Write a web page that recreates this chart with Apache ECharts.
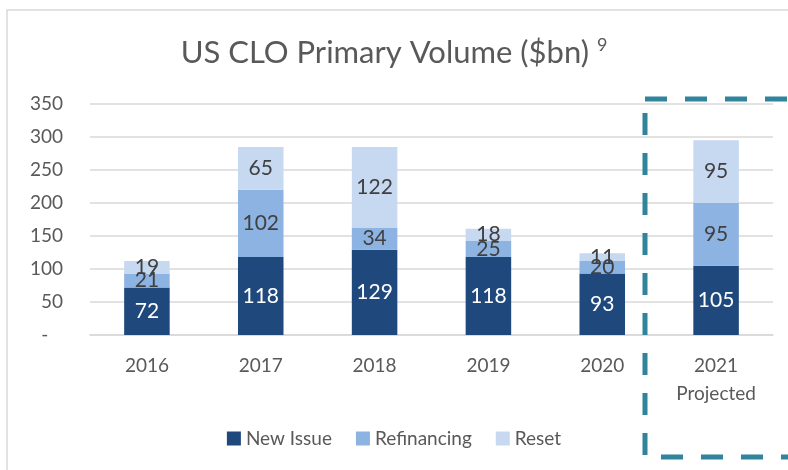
<!DOCTYPE html>
<html>
<head>
<meta charset="utf-8">
<script src="https://cdn.jsdelivr.net/npm/echarts@6/dist/echarts.min.js"></script>
<style>
  html, body { margin: 0; padding: 0; background: #fff; }
  #chart { width: 788px; height: 470px; }
</style>
</head>
<body>
<div id="chart"></div>
<script>
const years = ["2016", "2017", "2018", "2019", "2020", "2021\nProjected"];
const newIssue = [72, 118, 129, 118, 93, 105];
const refinancing = [21, 102, 34, 25, 20, 95];
const reset = [19, 65, 122, 18, 11, 95];

const font = "Lato, 'Open Sans', sans-serif";
const textGrey = "#595959";

const chart = echarts.init(document.getElementById("chart"));

const barSeries = (name, data, color, labelColor) => ({
  name,
  type: "bar",
  stack: "total",
  data,
  barWidth: "40%",
  itemStyle: { color },
  label: {
    show: true,
    position: "inside",
    color: labelColor,
    fontSize: 21,
    fontFamily: font,
  },
});

chart.setOption({
  animation: false,
  title: {
    text: "US CLO Primary Volume ($bn) {sup|9}",
    left: "center",
    top: 31,
    textStyle: {
      fontFamily: font,
      fontSize: 31,
      fontWeight: "normal",
      color: textGrey,
      rich: {
        sup: { fontSize: 18, color: textGrey, fontFamily: font, verticalAlign: "top", padding: [0, 0, 16, 0] },
      },
    },
  },
  legend: {
    bottom: 17,
    left: "center",
    itemWidth: 14,
    itemHeight: 14,
    itemGap: 24,
    icon: "rect",
    textStyle: { fontFamily: font, fontSize: 19, color: textGrey },
  },
  grid: { left: 90, right: 15, top: 104, bottom: 135 },
  xAxis: {
    type: "category",
    data: years,
    axisLine: { lineStyle: { color: "#D9D9D9", width: 1.5 } },
    axisTick: { show: false },
    axisLabel: { fontFamily: font, fontSize: 19, color: textGrey, margin: 17, lineHeight: 28 },
  },
  yAxis: {
    type: "value",
    min: 0,
    max: 350,
    interval: 50,
    axisLine: { show: false },
    axisTick: { show: false },
    splitLine: { lineStyle: { color: "#D9D9D9", width: 1.5 } },
    axisLabel: {
      fontFamily: font,
      fontSize: 19,
      color: textGrey,
      margin: 27,
      formatter: (v) => (v === 0 ? "-   " : String(v)),
    },
  },
  series: [
    barSeries("New Issue", newIssue, "#1F497D", "#FFFFFF"),
    barSeries("Refinancing", refinancing, "#8DB3E2", "#404040"),
    barSeries("Reset", reset, "#C6D9F1", "#404040"),
  ],
  graphic: [
    {
      type: "rect",
      shape: { x: 7, y: 10, width: 800, height: 480 },
      style: { fill: "none", stroke: "#D9D9D9", lineWidth: 1.5 },
      silent: true,
    },
    {
      type: "rect",
      shape: { x: 645, y: 99, width: 200, height: 358 },
      style: { fill: "none", stroke: "#31849B", lineWidth: 5, lineDash: [22, 18] },
      silent: true,
      z: 100,
    },
  ],
});
</script>
</body>
</html>
